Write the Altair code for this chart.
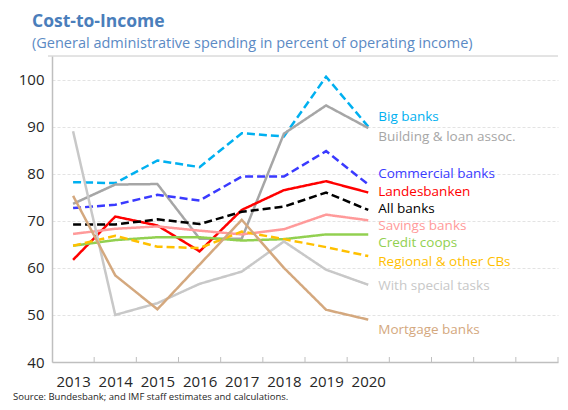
import altair as alt
import pandas as pd

# ---- data ----
years = [2013, 2014, 2015, 2016, 2017, 2018, 2019, 2020]
axis_years = list(range(2013, 2025))  # 12 category slots on the axis

series_names = ["Big banks", "Building & loan assoc.", "Commercial banks", "Landesbanken",
                "All banks", "Savings banks", "Credit coops", "Regional & other CBs",
                "With special tasks", "Mortgage banks"]

big_banks = [78.2, 78.0, 82.8, 81.4, 88.6, 87.9, 100.6, 90.0]
building_loan = [73.6, 77.7, 77.8, 66.2, 66.2, 88.5, 94.5, 89.7]
commercial = [72.7, 73.4, 75.5, 74.3, 79.4, 79.4, 84.8, 77.7]
landesbanken = [61.7, 70.9, 69.0, 63.5, 72.3, 76.5, 78.4, 76.0]
all_banks = [69.2, 69.2, 70.3, 69.3, 71.9, 73.0, 76.0, 72.3]
savings = [67.2, 68.3, 68.8, 67.9, 67.1, 68.2, 71.3, 70.1]
credit_coops = [64.7, 65.9, 66.5, 66.5, 65.8, 66.1, 67.1, 67.1]
regional = [64.7, 66.8, 64.5, 64.2, 67.7, 66.1, 64.4, 62.5]
special_tasks = [89.0, 50.0, 52.5, 56.6, 59.2, 65.6, 59.6, 56.4]
mortgage = [75.3, 58.4, 51.2, 60.7, 70.2, 60.0, 51.1, 49.0]

values = [big_banks, building_loan, commercial, landesbanken, all_banks,
          savings, credit_coops, regional, special_tasks, mortgage]

line_colors = ["#00b0f0", "#a6a6a6", "#3a3aff", "#ff0000", "#000000",
               "#ff9a9a", "#92d050", "#ffc000", "#c8c8c8", "#d4a87e"]
label_colors = ["#00b0f0", "#a6a6a6", "#4040ff", "#ff0000", "#000000",
                "#ff9a9a", "#92d050", "#ffc000", "#d9d9d9", "#e2bf9e"]
dashed = [True, False, True, False, True, False, False, True, False, False]
widths = [2.5, 2.5, 2.5, 2.5, 2.5, 2.5, 2.5, 2.5, 2.0, 1.8]
label_y = [92.0, 87.8, 79.9, 76.2, 72.5, 68.8, 65.2, 61.2, 56.1, 46.8]

y_ticks = [40, 50, 60, 70, 80, 90, 100]

W, H = 506, 306
FONT = "Open Sans"

# ---- tables ----
rows = []
for name, vals, dsh in zip(series_names, values, dashed):
    for yr, v in zip(years, vals):
        rows.append({"series": name, "year": yr, "value": v, "dashed": "d" if dsh else "s"})
df = pd.DataFrame(rows)

lab_df = pd.DataFrame({"series": series_names, "year": [years[-1]] * len(series_names),
                       "value": label_y})

tick_df = pd.DataFrame({"b": [y + 0.5 for y in axis_years]})

xscale = alt.Scale(domain=[axis_years[0] - 0.5, axis_years[-1] + 0.5], nice=False, zero=False)
yscale = alt.Scale(domain=[40, 105], nice=False, zero=False)

color_scale = alt.Scale(domain=series_names, range=line_colors)
label_scale = alt.Scale(domain=series_names, range=label_colors)
width_scale = alt.Scale(domain=series_names, range=widths)

base_x = alt.X("year:Q", scale=xscale,
               axis=alt.Axis(values=years, format="d", title=None, grid=False, ticks=False,
                             labelFontSize=15, labelFont=FONT, labelColor="#262626",
                             labelPadding=12, domainColor="#bfbfbf", domainWidth=1.5))
base_y = alt.Y("value:Q", scale=yscale,
               axis=alt.Axis(values=y_ticks, title=None, ticks=False, labelFontSize=15,
                             labelFont=FONT, labelColor="#262626", labelPadding=8,
                             domainColor="#bfbfbf", domainWidth=1.5,
                             gridColor="#e3e3e3", gridDash=[3, 2], gridWidth=1))

lines = alt.Chart(df).mark_line(strokeCap="butt", strokeJoin="miter").encode(
    x=base_x,
    y=base_y,
    color=alt.Color("series:N", scale=color_scale, legend=None),
    strokeWidth=alt.StrokeWidth("series:N", scale=width_scale, legend=None),
    strokeDash=alt.StrokeDash("dashed:N", scale=alt.Scale(domain=["d", "s"], range=[[8, 4], [1, 0]]),
                              legend=None),
    detail="series:N",
)

labels = alt.Chart(lab_df).mark_text(align="left", baseline="middle", dx=10, fontSize=13.5,
                                     font=FONT).encode(
    x=alt.X("year:Q", scale=xscale),
    y=alt.Y("value:Q", scale=yscale),
    text="series:N",
    color=alt.Color("series:N", scale=label_scale, legend=None),
)

ticks = alt.Chart(tick_df).mark_rule(color="#bfbfbf", strokeWidth=1).encode(
    x=alt.X("b:Q", scale=xscale),
    y=alt.value(H - 5),
    y2=alt.value(H),
)

top_border = alt.Chart(pd.DataFrame({"a": [0]})).mark_rule(color="#c8c8c8", strokeWidth=1).encode(
    x=alt.value(-4), x2=alt.value(W), y=alt.value(0)
)

one = pd.DataFrame({"a": [0]})
title = alt.Chart(one).mark_text(text="Cost-to-Income", align="left", baseline="alphabetic",
                                 fontSize=17.5, fontWeight="bold", font=FONT,
                                 color="#4a7ebb").encode(x=alt.value(-20), y=alt.value(-29))
subtitle = alt.Chart(one).mark_text(
    text="(General administrative spending in percent of operating income)",
    align="left", baseline="alphabetic", fontSize=14.5, font=FONT,
    color="#5b8ac4").encode(x=alt.value(-20), y=alt.value(-8))
source = alt.Chart(one).mark_text(
    text="Source: Bundesbank; and IMF staff estimates and calculations.",
    align="left", baseline="alphabetic", fontSize=9.5, font=FONT,
    color="#262626").encode(x=alt.value(-39), y=alt.value(H + 38))

chart = alt.layer(ticks, lines, labels, top_border, title, subtitle, source).properties(
    width=W, height=H,
    autosize=alt.AutoSizeParams(type="none"),
    padding={"left": 44, "top": 48, "right": 2, "bottom": 40},
).configure_view(stroke=None)

chart.save("out.html", embed_options={"renderer": "svg", "actions": False})
